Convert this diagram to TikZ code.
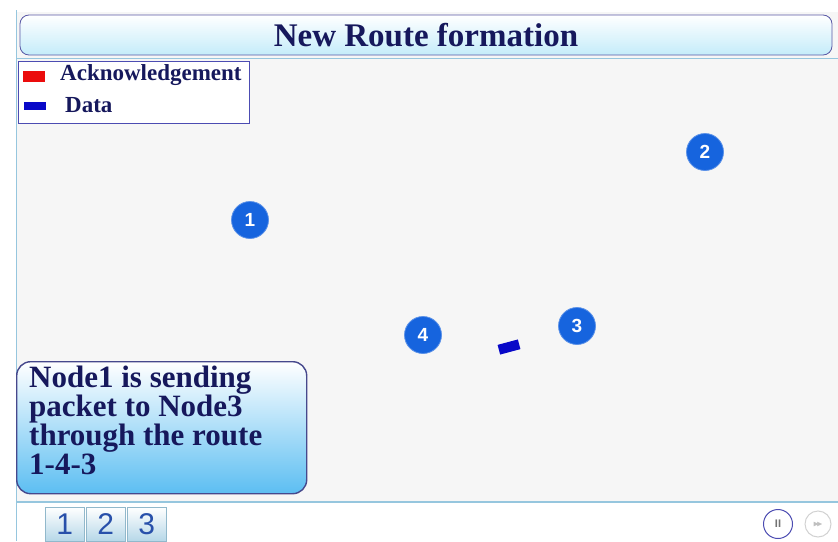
\documentclass[tikz,border=0pt]{standalone}
\usepackage{amssymb}
\usepackage{fontspec}
\setmainfont{Liberation Serif}
\newfontfamily\btnfont{Liberation Sans}
\usetikzlibrary{shapes.geometric}
\definecolor{pagegrey}{RGB}{246,246,246}
\definecolor{frameblue}{RGB}{150,198,222}
\definecolor{navy}{RGB}{22,24,92}
\definecolor{nodeblue}{RGB}{22,100,222}
\definecolor{datablue}{RGB}{8,8,200}
\definecolor{ackred}{RGB}{235,12,12}
\definecolor{titlecyan}{RGB}{196,236,250}
\definecolor{boxblue}{RGB}{92,190,242}
\definecolor{boxedge}{RGB}{70,72,140}
\definecolor{btnblue}{RGB}{40,80,170}
\tikzset{
  netnode/.style={circle, fill=nodeblue, draw=nodeblue!70!white, line width=0.8pt,
    minimum size=37pt, inner sep=0pt, text=white, font=\btnfont\bfseries\fontsize{19}{19}\selectfont},
  legtext/.style={anchor=base west, inner sep=0pt, text=navy, font=\bfseries\fontsize{23}{23}\selectfont},
  navbtn/.style={draw=frameblue!80!gray, line width=0.6pt, top color=white, bottom color=frameblue!70,
    minimum width=39pt, minimum height=34pt, inner sep=0pt, anchor=north west,
    text=btnblue, font=\btnfont\fontsize{30}{30}\selectfont},
  ctrlbtn/.style={circle, draw=gray!60!blue, line width=1pt, fill=white, minimum size=29pt, inner sep=0pt}
}
\begin{document}
\begin{tikzpicture}[x=1pt,y=-1pt]
\useasboundingbox (0,0) rectangle (838,541);
% page background and frame lines
\fill[white] (0,0) rectangle (838,541);
\fill[pagegrey] (17,12) rectangle (838,502);
\draw[frameblue, line width=1pt] (16,10) -- (16,541);
\draw[frameblue, line width=1pt] (16,58) -- (838,58);
\draw[frameblue, line width=1.2pt] (16,502) -- (838,502);
% title bar
\node[draw=gray!70!blue, line width=0.8pt, rounded corners=9pt, top color=white, bottom color=titlecyan,
  minimum width=812pt, minimum height=40pt, inner sep=0pt] (title) at (426,35)
  {\textcolor{navy}{\bfseries\fontsize{33}{33}\selectfont New Route formation}};
% legend
\node[draw=gray!60!blue, line width=0.8pt, fill=white, minimum width=231pt, minimum height=62pt,
  inner sep=0pt, anchor=north west] (legend) at (18,61) {};
\node[fill=ackred, minimum width=22pt, minimum height=11pt, inner sep=0pt] (ackkey) at (34,76) {};
\node[legtext] (acklabel) at (60,80) {Acknowledgement};
\node[fill=datablue, minimum width=22pt, minimum height=8pt, inner sep=0pt] (datakey) at (35,106) {};
\node[legtext] (datalabel) at (65,112) {Data};
% network nodes
\node[netnode] (n1) at (250,220) {1};
\node[netnode] (n2) at (705,152) {2};
\node[netnode] (n3) at (577,326) {3};
\node[netnode] (n4) at (423,335) {4};
% data packet in transit
\node[fill=datablue, minimum width=21pt, minimum height=10pt, inner sep=0pt, rotate=15] (packet) at (509,347) {};
% explanation box
\node[draw=boxedge, line width=1.4pt, rounded corners=14pt, top color=white, bottom color=boxblue,
  minimum width=290pt, minimum height=132pt, inner sep=0pt, anchor=north west] (note) at (16,361) {};
\node[anchor=base west, inner sep=0pt, align=left, text=navy,
  font=\bfseries\fontsize{31}{29}\selectfont] (notetext) at (29,474)
  {Node1 is sending\\packet to Node3\\through the route\\1-4-3};
% navigation buttons
\node[navbtn] (b1) at (45,507) {1};
\node[navbtn] (b2) at (86,507) {2};
\node[navbtn] (b3) at (127,507) {3};
% playback controls
\node[ctrlbtn] (pause) at (778,524) {\textcolor{gray!90!black}{\bfseries\btnfont\fontsize{11}{11}\selectfont II}};
\node[ctrlbtn, draw=gray!35, minimum size=26pt] (next) at (818,524) {\textcolor{gray!50}{\btnfont\fontsize{8}{8}\selectfont$\blacktriangleright\!\!\blacktriangleright$}};
\end{tikzpicture}
\end{document}
